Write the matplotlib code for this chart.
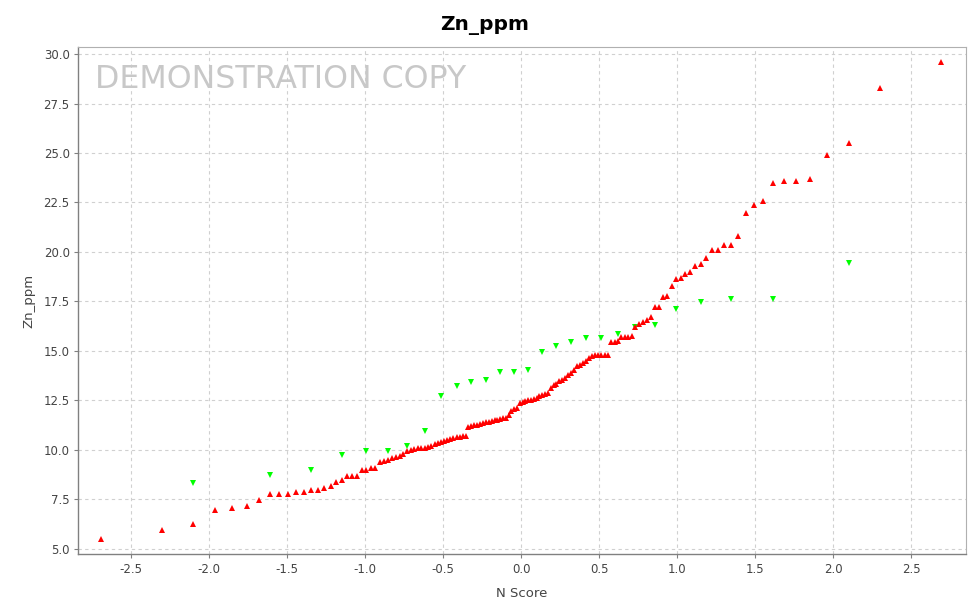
import matplotlib
matplotlib.use("Agg")
import matplotlib.pyplot as plt
from matplotlib.ticker import FormatStrFormatter

# ---- data ----
red_x = [-2.690, -2.300, -2.100, -1.960, -1.850, -1.759, -1.681, -1.611, -1.549, -1.492,
         -1.440, -1.391, -1.345, -1.302, -1.261, -1.222, -1.185, -1.150, -1.116, -1.084,
         -1.052, -1.021, -0.992, -0.963, -0.935, -0.907, -0.880, -0.854, -0.829, -0.804,
         -0.779, -0.755, -0.732, -0.709, -0.686, -0.664, -0.642, -0.619, -0.598, -0.577,
         -0.555, -0.535, -0.514, -0.494, -0.473, -0.454, -0.434, -0.414, -0.395, -0.375,
         -0.356, -0.338, -0.319, -0.300, -0.282, -0.263, -0.244, -0.226, -0.208, -0.189,
         -0.171, -0.153, -0.135, -0.117, -0.099, -0.081, -0.063, -0.045, -0.027, -0.009,
         0.009, 0.027, 0.045, 0.063, 0.081, 0.099, 0.117, 0.135, 0.153, 0.171,
         0.189, 0.208, 0.226, 0.244, 0.263, 0.282, 0.300, 0.319, 0.338, 0.356,
         0.375, 0.395, 0.414, 0.434, 0.454, 0.473, 0.494, 0.514, 0.535, 0.555,
         0.577, 0.598, 0.619, 0.642, 0.664, 0.686, 0.709, 0.732, 0.755, 0.779,
         0.804, 0.829, 0.854, 0.880, 0.907, 0.935, 0.963, 0.992, 1.021, 1.052,
         1.084, 1.116, 1.150, 1.185, 1.222, 1.261, 1.302, 1.345, 1.391, 1.440,
         1.492, 1.549, 1.611, 1.681, 1.759, 1.850, 1.960, 2.100, 2.300, 2.690]
red_y = [5.47, 5.96, 6.27, 6.97, 7.07, 7.17, 7.46, 7.76, 7.76, 7.76,
         7.86, 7.86, 7.96, 7.96, 8.05, 8.17, 8.37, 8.47, 8.67, 8.67,
         8.67, 8.98, 8.98, 9.06, 9.10, 9.36, 9.42, 9.50, 9.58, 9.64,
         9.70, 9.81, 9.94, 10.00, 10.05, 10.09, 10.09, 10.09, 10.12, 10.18,
         10.29, 10.36, 10.42, 10.47, 10.52, 10.56, 10.60, 10.64, 10.67, 10.68,
         10.70, 11.14, 11.19, 11.23, 11.27, 11.31, 11.35, 11.39, 11.42, 11.47,
         11.50, 11.52, 11.56, 11.59, 11.63, 11.75, 11.97, 12.08, 12.10, 12.36,
         12.43, 12.47, 12.50, 12.52, 12.55, 12.60, 12.70, 12.76, 12.82, 12.85,
         13.12, 13.26, 13.35, 13.47, 13.54, 13.63, 13.76, 13.90, 14.05, 14.22,
         14.30, 14.40, 14.50, 14.62, 14.75, 14.77, 14.77, 14.77, 14.77, 14.77,
         15.46, 15.46, 15.51, 15.68, 15.68, 15.68, 15.75, 16.22, 16.35, 16.47,
         16.56, 16.69, 17.20, 17.20, 17.70, 17.78, 18.26, 18.61, 18.69, 18.90,
         18.98, 19.30, 19.39, 19.68, 20.09, 20.09, 20.37, 20.37, 20.79, 21.98,
         22.39, 22.57, 23.48, 23.58, 23.58, 23.70, 24.89, 25.49, 28.28, 29.58]

green_x = [-2.100, -1.611, -1.345, -1.150, -0.992, -0.854, -0.732, -0.619, -0.514, -0.414,
           -0.319, -0.225, -0.134, -0.045, 0.045, 0.134, 0.225, 0.319, 0.414, 0.514,
           0.619, 0.732, 0.854, 0.992, 1.150, 1.345, 1.611, 2.100]
green_y = [8.32, 8.72, 8.97, 9.72, 9.92, 9.92, 10.21, 10.95, 12.70, 13.20,
           13.42, 13.52, 13.91, 13.91, 14.05, 14.92, 15.23, 15.43, 15.63, 15.65,
           15.87, 16.22, 16.32, 17.12, 17.47, 17.63, 17.63, 19.44]

x_ticks = [-2.5, -2.0, -1.5, -1.0, -0.5, 0.0, 0.5, 1.0, 1.5, 2.0, 2.5]
y_ticks = [5.0, 7.5, 10.0, 12.5, 15.0, 17.5, 20.0, 22.5, 25.0, 27.5, 30.0]

title = "Zn_ppm"
x_label = "N Score"
y_label = "Zn_ppm"
watermark = "DEMONSTRATION COPY"

# ---- figure ----
plt.rcParams['font.family'] = ['DejaVu Sans']
fig = plt.figure(figsize=(9.7, 6.05), dpi=100)
ax = fig.add_axes([0.0804, 0.0838, 0.9155, 0.839])

ax.plot(green_x, green_y, linestyle='none', marker='v', ms=5.0,
        color='#00FF00', markeredgewidth=0, zorder=3)
ax.plot(red_x, red_y, linestyle='none', marker='^', ms=5.0,
        color='#FF0000', markeredgewidth=0, zorder=4)

ax.set_xlim(-2.84, 2.85)
ax.set_ylim(4.72, 30.37)
ax.set_xticks(x_ticks)
ax.set_yticks(y_ticks)
ax.xaxis.set_major_formatter(FormatStrFormatter('%.1f'))
ax.yaxis.set_major_formatter(FormatStrFormatter('%.1f'))

ax.grid(True, color='#d0d0d0', linestyle=(0, (3, 3)), linewidth=0.8)
ax.set_axisbelow(True)
for s in ['top', 'right']:
    ax.spines[s].set_color('#b0b0b0')
    ax.spines[s].set_linewidth(0.8)
for s in ['left', 'bottom']:
    ax.spines[s].set_color('#808080')
    ax.spines[s].set_linewidth(1.0)
ax.tick_params(axis='both', direction='out', length=3, width=0.8,
               color='#808080', labelcolor='#444444', labelsize=8.5, pad=3)

ax.set_xlabel(x_label, fontsize=9.5, color='#444444', labelpad=8)
ax.set_ylabel(y_label, fontsize=9.5, color='#444444', labelpad=6)
fig.text(0.5, 0.958, title, ha='center', va='center', fontsize=14.5,
         fontweight='bold', color='black')

ax.text(0.019, 0.965, watermark, transform=ax.transAxes, ha='left', va='top',
        fontsize=22.8, color='#c8c8c8', zorder=1)

fig.savefig("out.png", dpi=100)
